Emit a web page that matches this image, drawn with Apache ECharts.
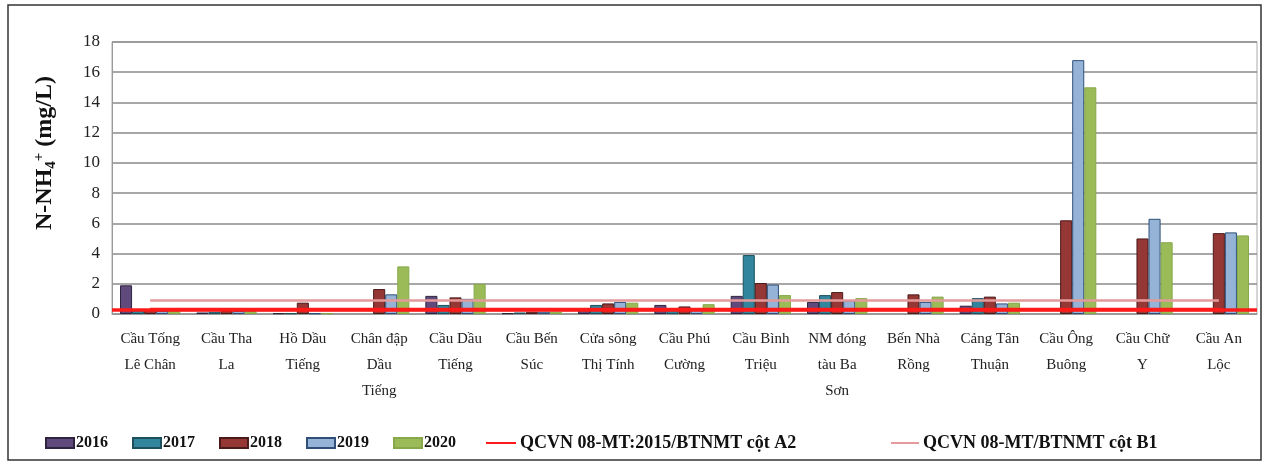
<!DOCTYPE html>
<html><head><meta charset="utf-8">
<script src="https://cdn.jsdelivr.net/npm/echarts@6/dist/echarts.min.js"></script>
<style>html,body{margin:0;padding:0;background:#fff}#c{width:1267px;height:466px}</style>
</head><body><div id="c"></div>
<script>
const categories = ["Cầu Tống\nLê Chân","Cầu Tha\nLa","Hồ Dầu\nTiếng","Chân đập\nDầu\nTiếng","Cầu Dầu\nTiếng","Cầu Bến\nSúc","Cửa sông\nThị Tính","Cầu Phú\nCường","Cầu Bình\nTriệu","NM đóng\ntàu Ba\nSơn","Bến Nhà\nRồng","Cảng Tân\nThuận","Cầu Ông\nBuông","Cầu Chữ\nY","Cầu An\nLộc"];
const y2016 = [1.9, 0.1, 0.05, null, 1.2, 0.05, 0.3, 0.6, 1.2, 0.8, null, 0.55, null, null, null];
const y2017 = [0.25, 0.15, 0.05, null, 0.6, 0.1, 0.6, 0.3, 3.9, 1.25, null, 1.05, null, null, null];
const y2018 = [0.3, 0.2, 0.75, 1.65, 1.1, 0.15, 0.7, 0.5, 2.05, 1.45, 1.3, 1.15, 6.2, 5.0, 5.35];
const y2019 = [0.2, 0.2, 0.05, 1.3, 1.0, 0.15, 0.8, 0.3, 1.95, 0.9, 0.8, 0.7, 16.8, 6.3, 5.4];
const y2020 = [0.2, 0.2, 0.05, 3.15, 2.0, 0.15, 0.75, 0.65, 1.25, 1.05, 1.15, 0.75, 15.0, 4.75, 5.2];
const limitA2 = [0.3,0.3,0.3,0.3,0.3,0.3,0.3,0.3,0.3,0.3,0.3,0.3,0.3,0.3,0.3];
const limitB1 = [0.9,0.9,0.9,0.9,0.9,0.9,0.9,0.9,0.9,0.9,0.9,0.9,0.9,0.9,0.9];
const yTicks = [0,2,4,6,8,10,12,14,16,18];
const nameA2 = "QCVN 08-MT:2015/BTNMT cột A2";
const nameB1 = "QCVN 08-MT/BTNMT cột B1";

const serif = "'Liberation Serif','Times New Roman',serif";
const chart = echarts.init(document.getElementById('c'), null, {renderer:'canvas'});
function bar(name, data, color, border){
  return {name, type:'bar', data, barGap:0, barCategoryGap:'21%',
    itemStyle:{color, borderColor:border, borderWidth:1}, z:2};
}
const legText = {fontFamily:serif, fontWeight:'bold', fontSize:16, color:'#111', padding:[0,0,0,-3]};
const legTextBig = {fontFamily:serif, fontWeight:'bold', fontSize:18, color:'#111', padding:[0,0,0,-1]};
chart.setOption({
  animation:false,
  textStyle:{fontFamily:serif},
  graphic:[
    {type:'rect', shape:{x:8,y:5,width:1253,height:455}, style:{fill:'none', stroke:'#333', lineWidth:1.5}, silent:true},
    {type:'text', x:45, y:153, rotation:Math.PI/2, style:{
      text:'{m|N-NH}{s|4}{p|+}{m| (mg/L)}', align:'center', verticalAlign:'middle',
      rich:{
        m:{fontFamily:serif, fontWeight:'bold', fontSize:24, fill:'#111'},
        s:{fontFamily:serif, fontWeight:'bold', fontSize:15, fill:'#111', padding:[12,0,0,0]},
        p:{fontFamily:serif, fontWeight:'bold', fontSize:15, fill:'#111', padding:[0,0,12,0]}
      }}}
  ],
  grid:{left:112, right:10, top:42, bottom:152, show:true, borderColor:'#aaa', borderWidth:1},
  legend:[{
    data:['2016','2017','2018','2019','2020'],
    icon:'rect',
    left:40, top:430, itemWidth:28, itemHeight:10, itemGap:24,
    textStyle:legText
  },{
    data:[{name:nameA2, itemStyle:{opacity:0}}],
    left:480, top:429, itemWidth:30, itemHeight:10,
    textStyle:legTextBig
  },{
    data:[{name:nameB1, itemStyle:{opacity:0}}],
    left:885, top:429, itemWidth:28, itemHeight:10,
    textStyle:legTextBig
  }],
  xAxis:{type:'category', data:categories,
    axisLine:{show:true, lineStyle:{color:'#999'}}, axisTick:{show:false},
    axisLabel:{interval:0, fontFamily:serif, fontSize:15, lineHeight:26, color:'#222', margin:12}
  },
  yAxis:{type:'value', min:0, max:18, interval:2,
    axisLine:{show:true, lineStyle:{color:'#999'}}, axisTick:{show:false},
    axisLabel:{fontFamily:serif, fontSize:17, color:'#222', margin:12,
      formatter:v=> yTicks.includes(v) ? String(v) : ''},
    splitLine:{lineStyle:{color:'#8a8a8a', width:1.5}}
  },
  series:[
    bar('2016', y2016, '#604A7B', '#2e2440'),
    bar('2017', y2017, '#31859C', '#1d4f5d'),
    bar('2018', y2018, '#953735', '#4a1b1a'),
    bar('2019', y2019, '#95B3D7', '#2f4f78'),
    bar('2020', y2020, '#9BBB59', '#86a84a'),
    {name:nameA2, type:'line', data:limitA2, symbol:'none', z:5,
      lineStyle:{color:'#FF1A1A', width:3.5}, itemStyle:{color:'#FF1A1A'},
      markLine:{silent:true, symbol:'none', label:{show:false},
        lineStyle:{color:'#FF1A1A', width:3.5, type:'solid'}, data:[{yAxis:limitA2[0]}]}},
    {name:nameB1, type:'line', data:limitB1, symbol:'none', z:5,
      lineStyle:{color:'#E49A9A', width:2.5}, itemStyle:{color:'#E49A9A'}}
  ]
});
</script></body></html>
